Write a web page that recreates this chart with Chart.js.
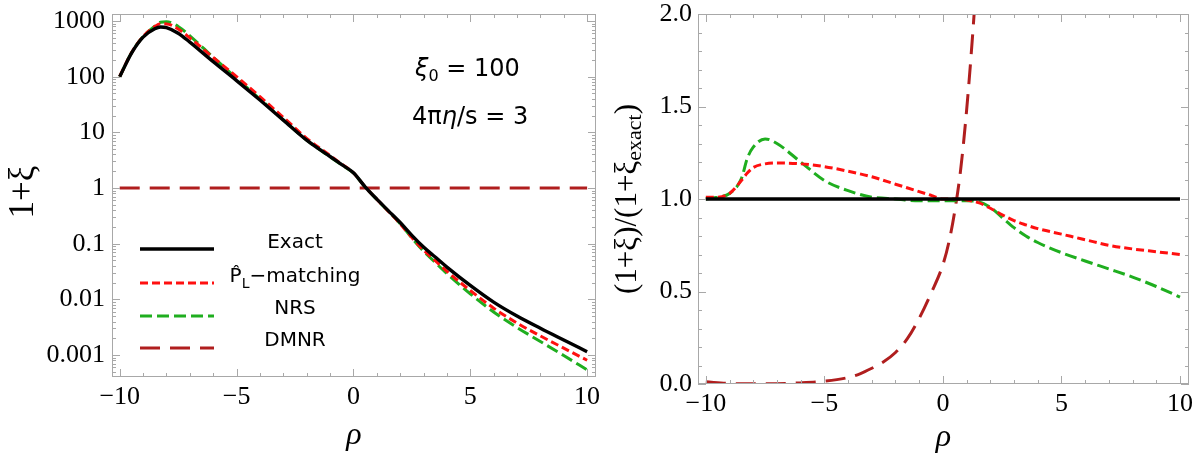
<!DOCTYPE html>
<html>
<head>
<meta charset="utf-8">
<script src="https://cdn.jsdelivr.net/npm/chart.js@4/dist/chart.umd.min.js"></script>
<style>
  body { margin: 0; background: #fff; width: 1196px; height: 463px; position: relative; overflow: hidden; }
  #left { position: absolute; left: 0; top: 0; }
  #right { position: absolute; left: 600px; top: 0; }
</style>
</head>
<body>
<canvas id="left" width="600" height="463"></canvas>
<canvas id="right" width="596" height="463"></canvas>
<script>
// rho grid shared by the curves
var rho = [-10, -9.5, -9, -8.5, -8.25, -8, -7.5, -7, -6, -5, -4, -3, -2, -1, -0.5, 0, 0.5, 1, 1.5, 2, 2.5, 3, 3.5, 4, 5, 6, 7, 8, 9, 10];

// left panel: 1 + xi
var exactXi  = [100, 263, 513, 724, 780, 759, 603, 417, 186, 85.1, 38.0, 16.6, 7.24, 3.68, 2.63, 1.88, 1.05, 0.631, 0.389, 0.240, 0.141, 0.0871, 0.0575, 0.0380, 0.0178, 0.00891, 0.00501, 0.00302, 0.00186, 0.00115];
var pmatchXi = [101, 266, 528, 796, 889, 888, 718, 498, 221, 100, 43.7, 18.6, 7.82, 3.83, 2.68, 1.88, 1.05, 0.628, 0.381, 0.228, 0.129, 0.0769, 0.0495, 0.0319, 0.0144, 0.00695, 0.00376, 0.00220, 0.00133, 0.000805];
var nrsXi    = [100, 266, 528, 804, 952, 972, 799, 542, 223, 93.6, 39.7, 16.8, 7.24, 3.64, 2.60, 1.86, 1.04, 0.625, 0.383, 0.229, 0.127, 0.0736, 0.0460, 0.0291, 0.0126, 0.00593, 0.00312, 0.00175, 0.00098, 0.00054];
var dmnrXi   = [1, 1, 1, 1, 1, 1, 1, 1, 1, 1, 1, 1, 1, 1, 1, 1, 1, 1, 1, 1, 1, 1, 1, 1, 1, 1, 1, 1, 1, 1];

// right panel: ratio to exact
var exactRatio  = [1, 1, 1, 1, 1, 1, 1, 1, 1, 1, 1, 1, 1, 1, 1, 1, 1, 1, 1, 1, 1, 1, 1, 1, 1, 1, 1, 1, 1, 1];
var pmatchRatio = [1.01, 1.01, 1.03, 1.10, 1.14, 1.17, 1.19, 1.195, 1.19, 1.175, 1.15, 1.12, 1.08, 1.04, 1.02, 1.0, 1.0, 0.995, 0.98, 0.95, 0.915, 0.883, 0.86, 0.84, 0.81, 0.78, 0.75, 0.73, 0.715, 0.70];
var nrsRatio    = [1.0, 1.01, 1.03, 1.11, 1.22, 1.28, 1.325, 1.30, 1.20, 1.10, 1.045, 1.01, 1.0, 0.99, 0.99, 0.99, 0.99, 0.99, 0.985, 0.955, 0.90, 0.845, 0.80, 0.765, 0.71, 0.665, 0.622, 0.578, 0.527, 0.47];
var dmnrRho     = [-10, -9, -8, -7, -6, -5, -4, -3.5, -3, -2.5, -2, -1.5, -1, -0.5, 0, 0.25, 0.5, 0.75, 1, 1.25, 1.5];
var dmnrRatio   = [0.012, 0.003, 0.001, 0.002, 0.006, 0.015, 0.035, 0.055, 0.085, 0.12, 0.17, 0.245, 0.355, 0.49, 0.645, 0.765, 0.935, 1.16, 1.48, 1.88, 2.35];

var xTicks = [-10, -5, 0, 5, 10];
var xMinor = [-10, -9, -8, -7, -6, -5, -4, -3, -2, -1, 0, 1, 2, 3, 4, 5, 6, 7, 8, 9, 10];
var logTicks = [0.001, 0.01, 0.1, 1, 10, 100, 1000];
var logTickLabels = ["0.001", "0.01", "0.1", "1", "10", "100", "1000"];
var ratioTicks = [0, 0.5, 1, 1.5, 2];
var legendLabels = ["Exact", "P\u0302", "NRS", "DMNR"];

var RED = "#ff1010", GREEN = "#1fae1f", DARKRED = "#b01e1e";

function pts(xs, ys) {
  return xs.map(function (x, i) { return { x: x, y: ys[i] }; });
}

function ds(label, data, color, dash, width) {
  return {
    label: label, data: data, borderColor: color, borderDash: dash, borderWidth: width,
    pointRadius: 0, fill: false, cubicInterpolationMode: "monotone"
  };
}

function minorLog() {
  var out = [];
  [0.0001, 0.001, 0.01, 0.1, 1, 10, 100, 1000].forEach(function (d) {
    for (var k = 1; k <= 9; k++) out.push(d * k);
  });
  return out;
}

// frame with inward ticks, Mathematica style
var frameTicks = {
  id: "frameTicks",
  afterDatasetsDraw: function (chart, args, opts) {
    var ctx = chart.ctx, a = chart.chartArea, sx = chart.scales.x, sy = chart.scales.y;
    ctx.save();
    ctx.strokeStyle = "#a8a8a8";
    ctx.lineWidth = 1;
    ctx.setLineDash([]);
    function seg(x1, y1, x2, y2) { ctx.beginPath(); ctx.moveTo(x1, y1); ctx.lineTo(x2, y2); ctx.stroke(); }
    xMinor.forEach(function (v) {
      var px = Math.round(sx.getPixelForValue(v)) + 0.5;
      var L = xTicks.indexOf(v) >= 0 ? 8 : 4;
      seg(px, a.bottom, px, a.bottom - L);
      seg(px, a.top, px, a.top + L);
    });
    opts.yMinor.forEach(function (v) {
      if (v < sy.min || v > sy.max) return;
      var py = Math.round(sy.getPixelForValue(v)) + 0.5;
      var L = opts.yMajor.indexOf(v) >= 0 ? 8 : 4;
      seg(a.left, py, a.left + L, py);
      seg(a.right, py, a.right - L, py);
    });
    ctx.strokeRect(Math.round(a.left) + 0.5, Math.round(a.top) + 0.5, Math.round(a.width) - 1, Math.round(a.height) - 1);
    ctx.restore();
  }
};

var leftText = {
  id: "leftText",
  afterDraw: function (chart) {
    var ctx = chart.ctx;
    ctx.save();
    ctx.fillStyle = "#000";
    // axis titles
    ctx.font = "italic 32px 'Liberation Serif'";
    ctx.textAlign = "center";
    ctx.textBaseline = "middle";
    ctx.fillText("\u03c1", (chart.chartArea.left + chart.chartArea.right) / 2, 436);
    ctx.save();
    ctx.translate(24, 192);
    ctx.rotate(-Math.PI / 2);
    ctx.font = "35px 'Liberation Serif'";
    ctx.fillText("1+\u03be", 0, 0);
    ctx.restore();

    // parameter box
    ctx.textAlign = "left";
    ctx.textBaseline = "alphabetic";
    var x0 = 415;
    ctx.font = "italic 24px 'DejaVu Sans'";
    ctx.fillText("\u03be", x0, 76);
    var w = ctx.measureText("\u03be").width;
    ctx.font = "16px 'DejaVu Sans'";
    ctx.fillText("0", x0 + w, 81);
    var w2 = ctx.measureText("0").width;
    ctx.font = "24px 'DejaVu Sans'";
    ctx.fillText(" = 100", x0 + w + w2, 76);
    ctx.fillText("4\u03c0", 412, 124);
    var w3 = ctx.measureText("4\u03c0").width;
    ctx.font = "italic 24px 'DejaVu Sans'";
    ctx.fillText("\u03b7", 412 + w3, 124);
    var w4 = ctx.measureText("\u03b7").width;
    ctx.font = "24px 'DejaVu Sans'";
    ctx.fillText("/s = 3", 412 + w3 + w4, 124);

    // legend
    var rows = [249, 283, 316, 348];
    chart.data.datasets.forEach(function (d, i) {
      ctx.strokeStyle = d.borderColor;
      ctx.lineWidth = d.borderWidth;
      ctx.setLineDash(d.borderDash || []);
      ctx.beginPath();
      ctx.moveTo(140, rows[i]);
      ctx.lineTo(214, rows[i]);
      ctx.stroke();
    });
    ctx.setLineDash([]);
    ctx.font = "20px 'DejaVu Sans'";
    ctx.textAlign = "center";
    ctx.textBaseline = "middle";
    ctx.fillText(legendLabels[0], 295, 243);
    ctx.fillText(legendLabels[2], 295, 309);
    ctx.fillText(legendLabels[3], 295, 341);
    // P-hat_L-matching with subscript
    ctx.textAlign = "left";
    var s1 = legendLabels[1], s2 = "L", s3 = "\u2212matching";
    var a1 = ctx.measureText(s1).width, a3 = ctx.measureText(s3).width;
    ctx.font = "14px 'DejaVu Sans'";
    var a2 = ctx.measureText(s2).width;
    var sx0 = 295 - (a1 + a2 + a3) / 2;
    ctx.font = "20px 'DejaVu Sans'";
    ctx.fillText(s1, sx0, 277);
    ctx.fillText(s3, sx0 + a1 + a2, 277);
    ctx.font = "14px 'DejaVu Sans'";
    ctx.fillText(s2, sx0 + a1, 284);
    ctx.restore();
  }
};

var rightText = {
  id: "rightText",
  afterDraw: function (chart) {
    var ctx = chart.ctx;
    ctx.save();
    ctx.fillStyle = "#000";
    ctx.font = "italic 32px 'Liberation Serif'";
    ctx.textAlign = "center";
    ctx.textBaseline = "middle";
    ctx.fillText("\u03c1", (chart.chartArea.left + chart.chartArea.right) / 2, 438);
    // y title with subscript
    ctx.translate(28, 199);
    ctx.rotate(-Math.PI / 2);
    ctx.textAlign = "left";
    var p1 = "(1+\u03be)/(1+\u03be", p2 = "exact", p3 = ")";
    ctx.font = "31px 'Liberation Serif'";
    var b1 = ctx.measureText(p1).width, b3 = ctx.measureText(p3).width;
    ctx.font = "22px 'Liberation Serif'";
    var b2 = ctx.measureText(p2).width;
    var start = -(b1 + b2 + b3) / 2;
    ctx.font = "31px 'Liberation Serif'";
    ctx.fillText(p1, start, 0);
    ctx.fillText(p3, start + b1 + b2, 0);
    ctx.font = "22px 'Liberation Serif'";
    ctx.fillText(p2, start + b1, 7);
    ctx.restore();
  }
};

function xScale(h) {
  return {
    type: "linear", min: -10.33, max: 10.38,
    grid: { display: false, drawTicks: false }, border: { display: false },
    afterBuildTicks: function (s) { s.ticks = xTicks.map(function (v) { return { value: v }; }); },
    afterFit: function (s) { s.height = h; s.paddingLeft = 0; s.paddingRight = 0; },
    ticks: {
      padding: 5, color: "#000", maxRotation: 0, autoSkip: false,
      font: { family: "'Liberation Serif'", size: 26 },
      callback: function (v) { return v < 0 ? "\u2212" + Math.abs(v) : String(v); }
    }
  };
}

new Chart(document.getElementById("left"), {
  type: "line",
  data: {
    datasets: [
      ds("Exact", pts(rho, exactXi), "#000", [], 3.4),
      ds("P-matching", pts(rho, pmatchXi), RED, [8, 4], 3),
      ds("NRS", pts(rho, nrsXi), GREEN, [12, 5], 3),
      ds("DMNR", pts(rho, dmnrXi), DARKRED, [20, 10], 3)
    ]
  },
  options: {
    responsive: false, animation: false,
    layout: { padding: { left: 0, top: 14, right: 4, bottom: 0 } },
    plugins: {
      legend: { display: false }, tooltip: { enabled: false },
      frameTicks: { yMajor: logTicks, yMinor: minorLog() }
    },
    scales: {
      x: xScale(86),
      y: {
        type: "logarithmic", min: 0.000403, max: 1336,
        grid: { display: false, drawTicks: false }, border: { display: false },
        afterBuildTicks: function (s) { s.ticks = logTicks.map(function (v) { return { value: v }; }); },
        afterFit: function (s) { s.width = 112; s.paddingTop = 0; s.paddingBottom = 0; },
        ticks: {
          padding: 7, color: "#000", autoSkip: false,
          font: { family: "'Liberation Serif'", size: 26 },
          callback: function (v) { var i = logTicks.indexOf(v); return i >= 0 ? logTickLabels[i] : ""; }
        }
      }
    }
  },
  plugins: [frameTicks, leftText]
});

new Chart(document.getElementById("right"), {
  type: "line",
  data: {
    datasets: [
      ds("Exact", pts(rho, exactRatio), "#000", [], 3.4),
      ds("P-matching", pts(rho, pmatchRatio), RED, [8, 4], 3),
      ds("NRS", pts(rho, nrsRatio), GREEN, [12, 5], 3),
      ds("DMNR", pts(dmnrRho, dmnrRatio), DARKRED, [20, 10], 3)
    ]
  },
  options: {
    responsive: false, animation: false,
    layout: { padding: { left: 0, top: 14, right: 7, bottom: 0 } },
    plugins: {
      legend: { display: false }, tooltip: { enabled: false },
      frameTicks: {
        yMajor: ratioTicks,
        yMinor: [0, 0.1, 0.2, 0.3, 0.4, 0.5, 0.6, 0.7, 0.8, 0.9, 1, 1.1, 1.2, 1.3, 1.4, 1.5, 1.6, 1.7, 1.8, 1.9, 2]
      }
    },
    scales: {
      x: xScale(79),
      y: {
        type: "linear", min: 0, max: 2,
        grid: { display: false, drawTicks: false }, border: { display: false },
        afterBuildTicks: function (s) { s.ticks = ratioTicks.map(function (v) { return { value: v }; }); },
        afterFit: function (s) { s.width = 98; s.paddingTop = 0; s.paddingBottom = 0; },
        ticks: {
          padding: 6, color: "#000", autoSkip: false,
          font: { family: "'Liberation Serif'", size: 26 },
          callback: function (v) { return v.toFixed(1); }
        }
      }
    }
  },
  plugins: [frameTicks, rightText]
});
</script>
</body>
</html>
